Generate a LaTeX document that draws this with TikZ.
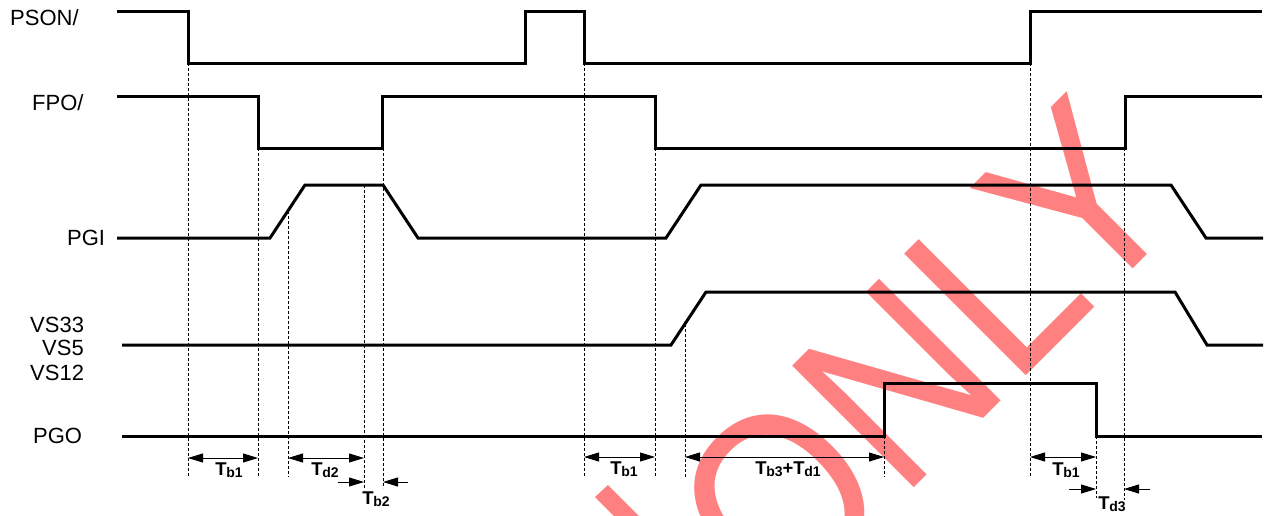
\documentclass[tikz,border=0pt]{standalone}
\usepackage{fontspec}
\setmainfont{Liberation Sans}
\usetikzlibrary{arrows.meta}
\definecolor{wm}{RGB}{255,128,128}
\newcommand\Tsub[1]{T\kern-0.3pt{\fontsize{14}{14}\selectfont\raisebox{-1.5pt}{#1}}}
\begin{document}
\begin{tikzpicture}[x=1pt,y=-1pt,
  sig/.style={line width=3pt, line join=miter},
  guide/.style={line width=0.8pt, dash pattern=on 3pt off 2pt},
  dim/.style={line width=1pt, {Triangle[length=15pt,width=9pt]}-{Triangle[length=15pt,width=9pt]}},
  onearrow/.style={line width=1pt, -{Triangle[length=15pt,width=9pt]}},
  lab/.style={font=\fontsize{22}{22}\selectfont, inner sep=0pt, anchor=base west},
  tl/.style={font=\fontsize{18.5}{18.5}\selectfont\bfseries, inner sep=0pt},
]
\useasboundingbox (0,0) rectangle (1275,515);
\clip (0,0) rectangle (1275,515);
\fill[white] (0,0) rectangle (1275,515);
% watermark
\node[rotate=45, xscale=0.88, anchor=base west, inner sep=0pt, text=wm,
      font=\fontsize{250}{250}\selectfont] (wmark) at (780,622) {ONLY};
\fill[wm] (595,497) -- (608,485) -- (643,520) -- (618,520) -- cycle;
% signal labels
\node[lab] (pson) at (10,25) {PSON/};
\node[lab] (fpo) at (32,110) {FPO/};
\node[lab] (pgi) at (67,245) {PGI};
\node[lab] (vs33) at (30,332) {VS33};
\node[lab] (vs5) at (42,355) {VS5};
\node[lab] (vs12) at (30,380) {VS12};
\node[lab] (pgo) at (33,443) {PGO};
% guides
\draw[guide] (188,63) -- (188,477);
\draw[guide] (258,148) -- (258,477);
\draw[guide] (288,211) -- (288,477);
\draw[guide] (364,185) -- (364,490);
\draw[guide] (383,148) -- (383,488);
\draw[guide] (584,63) -- (584,477);
\draw[guide] (655,148) -- (655,477);
\draw[guide] (685,324) -- (685,477);
\draw[guide] (884,436) -- (884,477);
\draw[guide] (1030,63) -- (1030,477);
\draw[guide] (1096,436) -- (1096,498);
\draw[guide] (1124,148) -- (1124,500);
% signals
\draw[sig] (117,11) -- (188,11) -- (188,63) -- (525,63) -- (525,11) -- (584,11) -- (584,63) -- (1030,63) -- (1030,11) -- (1262,11);
\draw[sig] (117,96) -- (258,96) -- (258,148) -- (382,148) -- (382,96) -- (655,96) -- (655,148) -- (1125,148) -- (1125,96) -- (1262,96);
\draw[sig] (117,238) -- (270,238) -- (305,185) -- (383,185) -- (418,238) -- (666,238) -- (701,185) -- (1171,185) -- (1206,238) -- (1263,238);
\draw[sig] (122,345) -- (671,345) -- (706,292) -- (1175,292) -- (1207,345) -- (1263,345);
\draw[sig] (122,436) -- (884,436) -- (884,383) -- (1096,383) -- (1096,436) -- (1262,436);
% dimensions
\draw[dim] (188,458) -- (258,458);
\draw[dim] (288,458) -- (364,458);
\draw[onearrow] (338,482) -- (364,482);
\draw[onearrow] (408,482) -- (383,482);
\draw[dim] (584,457) -- (655,457);
\draw[dim] (685,457) -- (884,457);
\draw[dim] (1030,457) -- (1096,457);
\draw[onearrow] (1069,489) -- (1096,489);
\draw[onearrow] (1150,489) -- (1124,489);
% timing labels
\node[tl] (tb1a) at (229,470) {\Tsub{b1}};
\node[tl] (td2) at (325,470) {\Tsub{d2}};
\node[tl] (tb2) at (376,499) {\Tsub{b2}};
\node[tl] (tb1b) at (624,469) {\Tsub{b1}};
\node[tl] (tb3d1) at (788,469) {\Tsub{b3}+\Tsub{d1}};
\node[tl] (tb1c) at (1066,470) {\Tsub{b1}};
\node[tl] (td3) at (1112,504) {\Tsub{d3}};
\end{tikzpicture}
\end{document}
